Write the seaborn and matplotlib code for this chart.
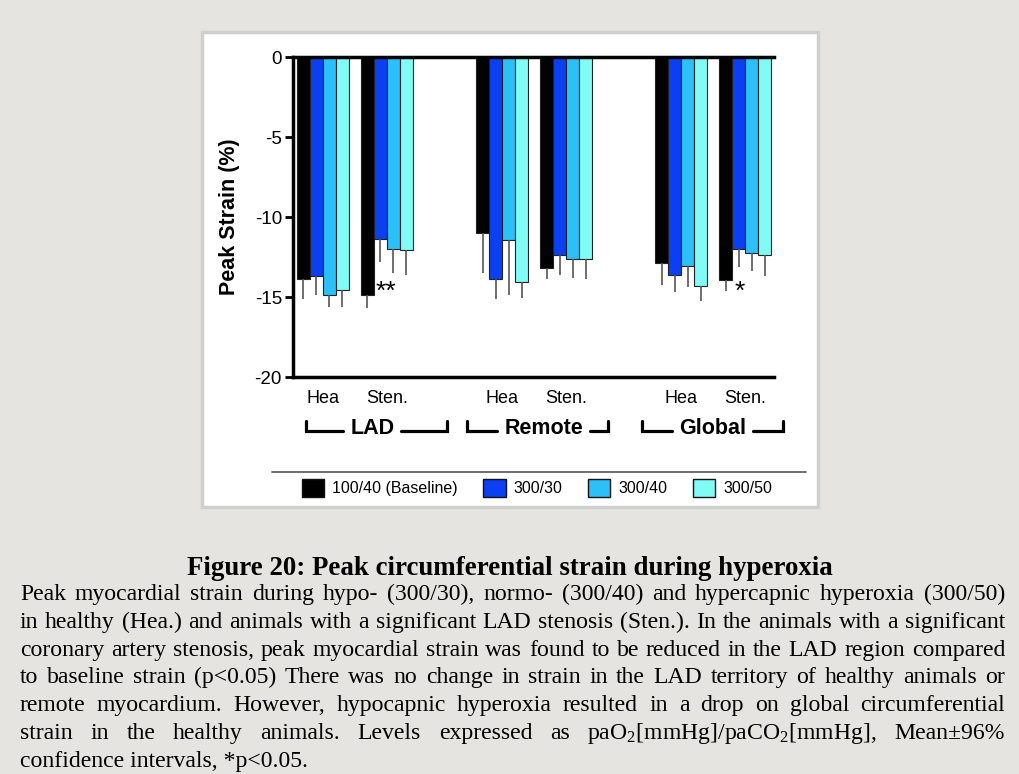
import numpy as np
import pandas as pd
import matplotlib
matplotlib.use("Agg")
import matplotlib.pyplot as plt
import matplotlib.transforms as mtransforms
from matplotlib.patches import Rectangle
from matplotlib.lines import Line2D
import seaborn as sns

# ---------------- data ----------------
regions = ["LAD", "Remote", "Global"]
group_pos = [0.0, 1.0, 2.8, 3.8, 5.6, 6.6]
group_ticklabels = ["Hea", "Sten.", "Hea", "Sten.", "Hea", "Sten."]
levels = ["100/40 (Baseline)", "300/30", "300/40", "300/50"]
colors = ["#000000", "#0b3ff2", "#2bc0f8", "#80fbf5"]

mean_baseline = [-13.9, -14.9, -11.0, -13.2, -12.9, -13.95]
mean_300_30 = [-13.7, -11.4, -13.85, -12.4, -13.65, -12.0]
mean_300_40 = [-14.9, -12.0, -11.45, -12.65, -13.05, -12.25]
mean_300_50 = [-14.55, -12.05, -14.05, -12.65, -14.3, -12.4]

ci_baseline = [1.2, 0.8, 2.5, 0.7, 1.35, 0.7]
ci_300_30 = [1.2, 1.4, 1.25, 1.25, 1.05, 1.15]
ci_300_40 = [0.7, 1.5, 3.45, 1.15, 1.35, 1.15]
ci_300_50 = [1.05, 1.55, 1.0, 1.2, 0.95, 1.3]

sig_labels = ["", "**", "", "", "", "*"]

yticks = [0, -5, -10, -15, -20]
ytick_labels = ["0", "-5", "-10", "-15", "-20"]

caption_title = "Figure 20: Peak circumferential strain during hyperoxia"
caption_lines = [
    "Peak myocardial strain during hypo- (300/30), normo- (300/40) and hypercapnic hyperoxia (300/50)",
    "in healthy (Hea.) and animals with a significant LAD stenosis (Sten.). In the animals with a significant",
    "coronary artery stenosis, peak myocardial strain was found to be reduced in the LAD region compared",
    "to baseline strain (p<0.05) There was no change in strain in the LAD territory of healthy animals or",
    "remote myocardium. However, hypocapnic hyperoxia resulted in a drop on global circumferential",
    r"strain in the healthy animals. Levels expressed as paO$_\mathrm{2}$[mmHg]/paCO$_\mathrm{2}$[mmHg], Mean±96%",
    "confidence intervals, *p<0.05.",
]

means = [mean_baseline, mean_300_30, mean_300_40, mean_300_50]
cis = [ci_baseline, ci_300_30, ci_300_40, ci_300_50]

rows = []
for j, lev in enumerate(levels):
    for i, p in enumerate(group_pos):
        rows.append({"pos": p, "level": lev, "value": means[j][i], "ci": cis[j][i]})
df = pd.DataFrame(rows)

# ---------------- style ----------------
sns.set_style("white")
plt.rcParams["font.family"] = ["Liberation Sans", "DejaVu Sans"]
plt.rcParams["mathtext.fontset"] = "custom"
plt.rcParams["mathtext.rm"] = "Liberation Serif"
plt.rcParams["mathtext.it"] = "Liberation Serif:italic"
plt.rcParams["mathtext.bf"] = "Liberation Serif:bold"
plt.rcParams["axes.unicode_minus"] = False
for key in ["text.color", "axes.labelcolor", "xtick.color", "ytick.color",
            "xtick.labelcolor", "ytick.labelcolor"]:
    plt.rcParams[key] = "black"

W, H = 1020, 774
fig = plt.figure(figsize=(W / 100, H / 100), dpi=100, facecolor="#e5e4e0")

def fx(px):
    return px / W

def fy(py):
    return 1 - py / H

# white panel
fig.patches.append(Rectangle((fx(202), fy(507)), fx(818) - fx(202), fy(32) - fy(507),
                             transform=fig.transFigure, facecolor="white",
                             edgecolor="#cfcfcf", lw=2.5, zorder=-1))

ax = fig.add_axes([fx(293), fy(377), fx(774) - fx(293), fy(57) - fy(377)])
ax.set_facecolor("white")

sns.barplot(data=df, x="pos", y="value", hue="level", hue_order=levels,
            palette=colors, native_scale=True, width=0.8125, errorbar=None,
            edgecolor="#222222", linewidth=0.8, saturation=1, ax=ax)

bar_containers = [c for c in ax.containers]

# one-sided CI whiskers
for j, cont in enumerate(bar_containers):
    for bar in cont:
        if bar is None:
            continue
        cx = bar.get_x() + bar.get_width() / 2
        val = bar.get_y() + bar.get_height()
        gi = int(np.argmin([abs(cx - p) for p in group_pos]))
        err = cis[j][gi]
        ax.errorbar([cx], [val], yerr=[[err], [0]], fmt="none", ecolor="#555555",
                    elinewidth=1.2, capsize=0, zorder=3)

# significance markers next to baseline bar
for gi, lab in enumerate(sig_labels):
    if lab:
        cands = sorted(bar_containers[0],
                       key=lambda b: abs(b.get_x() + b.get_width() / 2 - group_pos[gi]))
        bar = cands[0]
        ax.text(bar.get_x() + bar.get_width() + 0.03, -14.7, lab,
                ha="left", va="center", fontsize=19, color="black")

ax.set_xlim(-30 / 64, 451 / 64)
ax.set_ylim(-20, 0)
ax.set_yticks(yticks)
ax.set_yticklabels(ytick_labels)
ax.set_xticks(group_pos)
ax.set_xticklabels(group_ticklabels)
ax.tick_params(axis="x", length=0, pad=9, labelsize=13, colors="black")
ax.tick_params(axis="y", length=6, width=2, pad=2, labelsize=13.5, left=True, colors="black")
ax.set_xlabel("")
ax.set_ylabel("Peak Strain (%)", fontsize=15.5, fontweight="bold", color="black")
ax.yaxis.set_label_coords(-0.11, 0.5)
for s in ["top", "bottom", "left"]:
    ax.spines[s].set_visible(True)
    ax.spines[s].set_linewidth(2.5)
    ax.spines[s].set_color("black")
ax.spines["right"].set_visible(False)

# legend
handles, labels = ax.get_legend_handles_labels()
if ax.get_legend() is not None:
    ax.get_legend().remove()
leg = fig.legend(handles[:4], labels[:4], loc="center", bbox_to_anchor=(fx(537), fy(488)),
                 ncol=4, frameon=False, fontsize=11.5, handlelength=1.4,
                 handleheight=1.35, handletextpad=0.5, columnspacing=1.6,
                 borderaxespad=0, borderpad=0, labelcolor="black")
for h in leg.legend_handles:
    h.set_edgecolor("#111111")
    h.set_linewidth(1.0)

fig.add_artist(Line2D([fx(272), fx(806)], [fy(472), fy(472)], color="#555555",
                      lw=1.2, transform=fig.transFigure))

# region brackets
blend = mtransforms.blended_transform_factory(ax.transData, fig.transFigure)
bracket_spans = [(-0.27, 1.94), (2.25, 4.45), (4.98, 7.19)]
label_centers = [0.77, 3.45, 6.09]
renderer = fig.canvas.get_renderer()
px_per_unit = 64.0
for reg, (x0, x1), xc in zip(regions, bracket_spans, label_centers):
    t = fig.text(0, 0, reg, transform=blend, ha="center", va="center",
                 fontsize=15.5, fontweight="bold", color="black")
    t.set_position((xc, fy(429)))
    bb = t.get_window_extent(renderer)
    half = bb.width / 2 / px_per_unit
    gap = 7 / px_per_unit
    yb, yt = fy(431), fy(421)
    fig.add_artist(Line2D([x0, x0, xc - half - gap], [yt, yb, yb], color="black",
                          lw=2.3, transform=blend, solid_joinstyle="miter"))
    fig.add_artist(Line2D([xc + half + gap, x1, x1], [yb, yb, yt], color="black",
                          lw=2.3, transform=blend, solid_joinstyle="miter"))

# caption
serif = ["Liberation Serif", "DejaVu Serif"]

def measure(s, size, weight="normal"):
    t = fig.text(0, 0, s, fontsize=size, family=serif, weight=weight)
    w = t.get_window_extent(renderer).width
    t.remove()
    return w

tw = measure(caption_title, 10, "bold")
title_size = 10 * 647 / tw
fig.text(fx(510), fy(575), caption_title, ha="center", va="baseline",
         fontsize=title_size, family=serif, weight="bold", color="black")

maxw = max(measure(l, 10) for l in caption_lines)
body_size = 10 * 978 / maxw
left_px, right_px = 20, 1005
for k, line in enumerate(caption_lines):
    base = fy(600 + 27.8 * k)
    if k == len(caption_lines) - 1:
        fig.text(fx(left_px), base, line, ha="left", va="baseline",
                 fontsize=body_size, family=serif, color="black")
        continue
    words = line.split(" ")
    widths = [measure(w, body_size) for w in words]
    gap = (right_px - left_px - sum(widths)) / (len(words) - 1)
    x = left_px
    for w, wd in zip(words, widths):
        fig.text(fx(x), base, w, ha="left", va="baseline", fontsize=body_size,
                 family=serif, color="black")
        x += wd + gap

fig.savefig("out.png", dpi=100, facecolor=fig.get_facecolor())
